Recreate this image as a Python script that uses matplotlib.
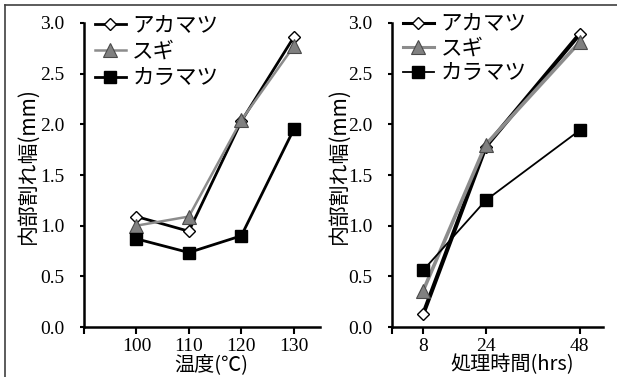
import numpy as np
import matplotlib.pyplot as plt
from matplotlib.lines import Line2D

# --- データ ---
species = ['アカマツ', 'スギ', 'カラマツ']

temp = [100, 110, 120, 130]
temp_akamatsu = [1.09, 0.945, 2.03, 2.86]
temp_sugi = [1.00, 1.09, 2.04, 2.77]
temp_karamatsu = [0.87, 0.735, 0.90, 1.95]

hours = [8, 24, 48]
hrs_akamatsu = [0.13, 1.78, 2.89]
hrs_sugi = [0.36, 1.80, 2.81]
hrs_karamatsu = [0.56, 1.25, 1.94]

y_ticks = [0.0, 0.5, 1.0, 1.5, 2.0, 2.5, 3.0]

JP = 'Noto Sans CJK JP'
SERIF = 'Liberation Serif'

fig = plt.figure(figsize=(6.17, 3.77), dpi=100)
ax1 = fig.add_axes([0.1361, 0.1326, 0.3825, 0.8064])
ax2 = fig.add_axes([0.6353, 0.1326, 0.3420, 0.8064])


def style_axes(ax):
    for s in ['top', 'right']:
        ax.spines[s].set_visible(False)
    for s in ['left', 'bottom']:
        ax.spines[s].set_linewidth(1.8)
    ax.set_ylim(0, 3.0)
    ax.set_yticks(y_ticks)
    ax.set_yticklabels([f'{v:.1f}' for v in y_ticks], family=SERIF, fontsize=14)
    ax.tick_params(axis='y', direction='out', length=3, width=1.5, pad=11)
    ax.tick_params(axis='x', direction='out', length=5, width=1.5, pad=3)
    ax.set_ylabel('内部割れ幅(mm)', family=JP, fontsize=15)


# 左: 温度
ax1.plot(temp, temp_akamatsu, color='black', lw=2.0, marker='D', ms=6.5,
         mfc='white', mec='black', mew=1.0, label=species[0])
ax1.plot(temp, temp_sugi, color='#8c8c8c', lw=1.8, marker='^', ms=10.5,
         mfc='#808080', mec='#4a4a4a', mew=0.8, label=species[1])
ax1.plot(temp, temp_karamatsu, color='black', lw=2.0, marker='s', ms=8.5,
         mfc='black', mec='black', label=species[2])
style_axes(ax1)
ax1.yaxis.set_label_coords(-0.19, 0.53)
ax1.set_xlim(90, 135)
ax1.set_xticks([90] + temp)
ax1.set_xticklabels([''] + [str(t) for t in temp], family=SERIF, fontsize=14)
ax1.set_xlabel('温度(℃)', family=JP, fontsize=14.5)
ax1.xaxis.set_label_coords(0.54, -0.09)
ax1.legend(loc='upper left', bbox_to_anchor=(-0.01, 1.07), frameon=False,
           prop={'family': JP, 'size': 15.5}, handlelength=1.45,
           handletextpad=0.3, labelspacing=0.2, borderaxespad=0.2)

# 右: 処理時間
ax2.plot(hours, hrs_akamatsu, color='black', lw=3.0, marker='D', ms=6.5,
         mfc='white', mec='black', mew=1.0, label=species[0])
ax2.plot(hours, hrs_sugi, color='#8c8c8c', lw=2.6, marker='^', ms=10.5,
         mfc='#808080', mec='#4a4a4a', mew=0.8, label=species[1])
ax2.plot(hours, hrs_karamatsu, color='black', lw=1.3, marker='s', ms=8.5,
         mfc='black', mec='black', label=species[2])
style_axes(ax2)
ax2.yaxis.set_label_coords(-0.2, 0.53)
ax2.set_xlim(0, 54)
ax2.set_xticks([0] + hours)
ax2.set_xticklabels([''] + [str(h) for h in hours], family=SERIF, fontsize=14)
ax2.set_xlabel('処理時間(hrs)', family=JP, fontsize=14.5)
ax2.xaxis.set_label_coords(0.57, -0.09)
leg2 = ax2.legend(loc='upper left', bbox_to_anchor=(-0.01, 1.075), frameon=False,
                  prop={'family': JP, 'size': 15.5}, handlelength=1.45,
                  handletextpad=0.3, labelspacing=0.12, borderaxespad=0.2)
for h in leg2.get_lines()[:2]:
    h.set_linewidth(2.2)

# 外枠(上と左のみ見える)
fig.add_artist(Line2D([5 / 617, 1], [1 - 5 / 377, 1 - 5 / 377],
                      color='#404040', lw=1.2, transform=fig.transFigure))
fig.add_artist(Line2D([5 / 617, 5 / 617], [0, 1 - 5 / 377],
                      color='#404040', lw=1.2, transform=fig.transFigure))

fig.savefig('out.png', dpi=100)
